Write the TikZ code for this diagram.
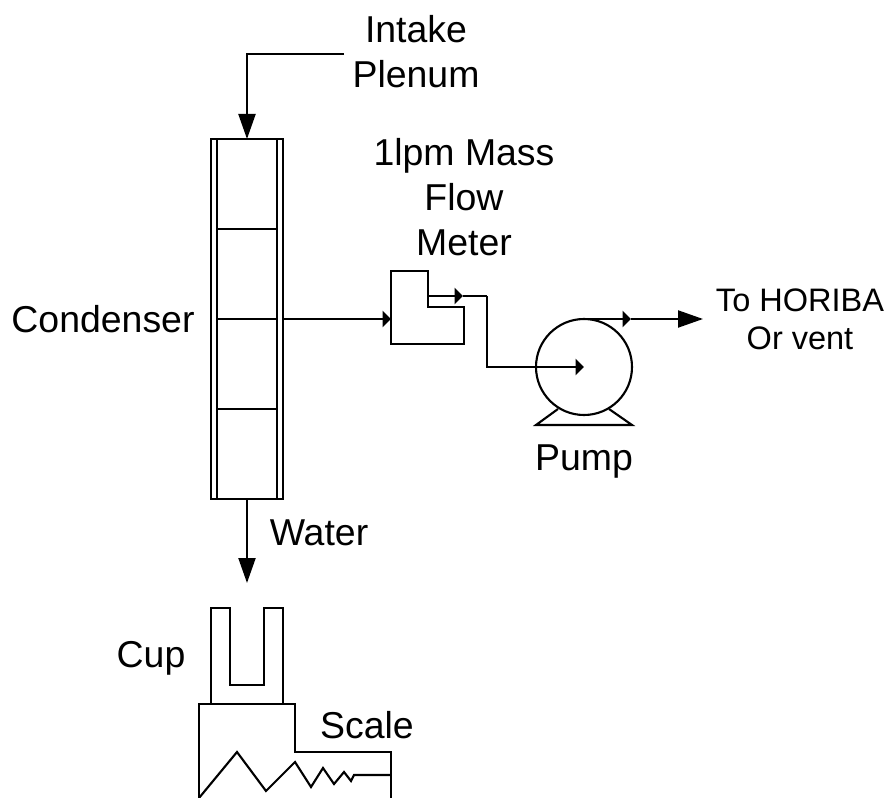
\documentclass[tikz,border=0pt]{standalone}
\usepackage{fontspec}
\setmainfont{Liberation Sans}
\usetikzlibrary{arrows.meta, positioning, calc}
\tikzset{
    lbl/.style={font=\fontsize{21.3}{25.5}\selectfont, align=center, inner sep=0pt},
    lblsmall/.style={font=\fontsize{18.5}{21.5}\selectfont, align=center, inner sep=0pt},
    part/.style={draw, line width=1.2pt, inner sep=0pt, outer sep=0pt},
    pipe/.style={line width=1.2pt},
    flowbig/.style={pipe, -{Triangle[length=5mm, width=3.4mm]}},
    flowsmall/.style={pipe, -{Triangle[length=1.7mm, width=3.2mm]}},
}

\begin{document}
\begin{tikzpicture}[x=0.2mm, y=-0.2mm]
        \useasboundingbox (0,0) rectangle (887,798);

        % Condenser
        \node[part, minimum width=14.4mm, minimum height=72mm] (condenser) at (247,319) {};
        \node[part, minimum width=12mm, minimum height=72mm] (core) at (247,319) {};
        \foreach \y in {229,319,409} {
            \draw[pipe] (217,\y) -- (277,\y);
        }

        % Intake
        \coordinate (intake) at (344,54);
        \draw[flowbig] (intake) -| (condenser.north);

        % Mass flow meter
        \coordinate (meterin) at (391,319);
        \coordinate (meterout) at (428,296);
        \draw[part] (391,271) -- (428,271) -- (428,307) -- (464,307)
            -- (464,344) -- (391,344) -- cycle;
        \draw[flowsmall] (condenser.east |- meterin) -- (meterin);

        % Pump
        \node[part, circle, minimum size=19.2mm] (pump) at (584,367) {};
        \coordinate (pumpin) at (584,367);
        \draw[pipe] (558,409) -- (536,425) -- (632,425) -- (609,409);
        \coordinate (midmeter) at (463,296);
        \coordinate (bend) at (487,296);
        \draw[flowsmall] (meterout) -- (midmeter);
        \draw[pipe] (midmeter) -- (bend);
        \draw[flowsmall] (bend) |- (pumpin);

        % Outlet
        \coordinate (midout) at ($(pump.north)+(47,0)$);
        \coordinate (outlet) at ($(pump.north)+(119,0)$);
        \draw[flowsmall] (pump.north) -- (midout);
        \draw[flowbig] (midout) -- (outlet);

        % Water
        \coordinate (drip) at (247,583);
        \draw[flowbig] (condenser.south) -- (drip);

        % Cup
        \draw[part] (211,704) -- (211,608) -- (230,608) -- (230,685)
            -- (264,685) -- (264,608) -- (283,608) -- (283,704);

        % Scale
        \draw[part] (199,798) -- (199,704) -- (295,704) -- (295,752)
            -- (391,752) -- (391,798);
        \draw[pipe] (199,798) -- (237,752) -- (266,791) -- (295,762) -- (311,787)
            -- (323,768) -- (334,784) -- (344,772) -- (351,781) -- (354,775) -- (391,775);

        % Labels
        \node[lbl] (intakelbl) at (416,52) {Intake\\Plenum};
        \node[lbl] (meterlbl) at (464,197) {1lpm Mass\\Flow\\Meter};
        \node[lbl] (condenserlbl) at (103,319) {Condenser};
        \node[lblsmall] (outletlbl) at (800,319) {To HORIBA\\Or vent};
        \node[lbl] (pumplbl) at (584,462) {Pump};
        \node[lbl] (waterlbl) at (319,533) {Water};
        \node[lbl] (cuplbl) at (151,658) {Cup};
        \node[lbl] (scalelbl) at (367,725) {Scale};
    \end{tikzpicture}
\end{document}
